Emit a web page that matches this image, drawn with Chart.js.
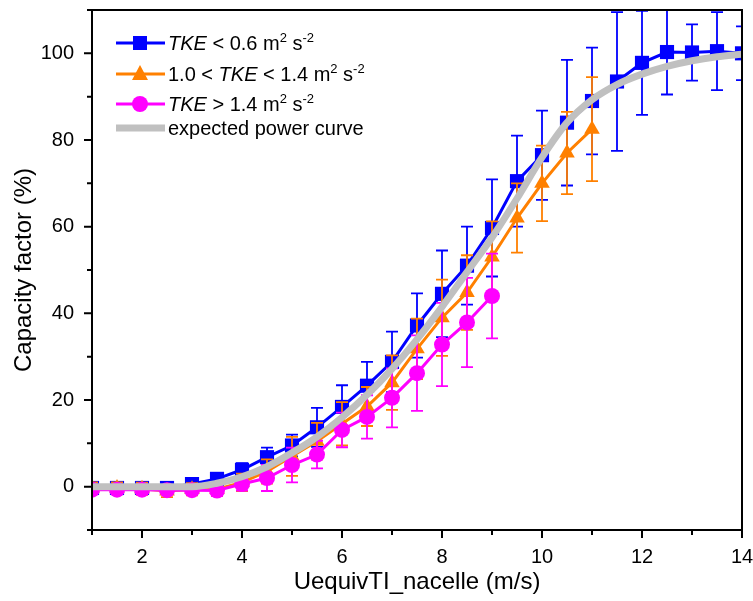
<!DOCTYPE html>
<html>
<head>
<meta charset="utf-8">
<script src="https://cdn.jsdelivr.net/npm/chart.js@4.4.1/dist/chart.umd.min.js"></script>
<style>
  html, body { margin: 0; padding: 0; background: #fff; }
  #chartContainer { width: 753px; height: 601px; }
</style>
</head>
<body>
<div id="chartContainer"><canvas id="cfChart" width="753" height="601"></canvas></div>
<script>
// wind speed bins (m/s)
const windSpeed = [1, 1.5, 2, 2.5, 3, 3.5, 4, 4.5, 5, 5.5, 6, 6.5, 7, 7.5, 8, 8.5, 9, 9.5, 10, 10.5, 11, 11.5, 12, 12.5, 13, 13.5, 14];

// TKE < 0.6
const cfLowTke  = [-0.3, -0.3, -0.3, -0.3, 0.6, 1.8, 3.9, 6.8, 9.5, 13.7, 18.4, 23.3, 28.8, 37.2, 44.5, 51, 59.7, 70.5, 76.5, 84, 89, 93.5, 97.8, 100.3, 100.2, 100.5, 100];
const errLowTke = [0.8, 0.8, 0.8, 0.8, 1, 1, 1.5, 2.2, 2.5, 4.5, 5, 5.5, 7, 7.4, 10, 9, 11.2, 10.5, 10.3, 14.5, 12.3, 16, 12, 9.8, 6.5, 9, 6.2];

// 1.0 < TKE < 1.4
const cfMidTke  = [-0.3, -0.3, -0.5, -1, -0.6, -0.6, 1, 3.5, 7, 10.5, 14.5, 18.5, 24, 31.8, 39, 44.8, 53, 62, 70, 77, 82.5];
const errMidTke = [1.3, 1.3, 1.4, 1.4, 1.4, 1.5, 2, 2.8, 4.5, 4.2, 5, 4.5, 6.3, 7, 8.8, 8.6, 8.2, 8, 8.7, 9.5, 12];

// TKE > 1.4
const cfHighTke  = [-0.7, -0.7, -0.7, -0.8, -0.8, -0.9, 0.6, 2, 5, 7.4, 13.1, 16.1, 20.5, 26.2, 32.8, 37.9, 44];
const errHighTke = [0.7, 0.7, 0.7, 0.7, 0.7, 1.2, 1.5, 3, 4, 3.2, 4, 5, 6.8, 8.7, 9.6, 10.3, 9.8];

// expected power curve
const cfExpected = [0, 0, 0, 0, 0, 0.8, 2.3, 4.6, 7.8, 11.5, 16, 21.2, 27.2, 34, 41.5, 49.5, 57.5, 66.5, 76, 84, 89.3, 92.8, 95.2, 97, 98.3, 99.2, 99.8];

const xTickLabels = [2, 4, 6, 8, 10, 12, 14];
const yTickLabels = [0, 20, 40, 60, 80, 100];

const legendEntries = [
	[{ t: 'TKE', it: true }, { t: ' < 0.6 m' }, { t: '2', sup: true }, { t: ' s' }, { t: '-2', sup: true }],
	[{ t: '1.0 < ' }, { t: 'TKE', it: true }, { t: ' < 1.4 m' }, { t: '2', sup: true }, { t: ' s' }, { t: '-2', sup: true }],
	[{ t: 'TKE', it: true }, { t: ' > 1.4 m' }, { t: '2', sup: true }, { t: ' s' }, { t: '-2', sup: true }],
	[{ t: 'expected power curve' }]
];

const FONT = '"Liberation Sans", Arial, sans-serif';
Chart.defaults.font.family = FONT;
Chart.defaults.color = '#000';

function toPoints(vals) {
	return vals.map((v, i) => ({ x: windSpeed[i], y: v }));
}

function noPad(s) {
	s.paddingTop = 0;
	s.paddingBottom = 0;
	s.paddingLeft = 0;
	s.paddingRight = 0;
}

const errorBarPlugin = {
	id: 'errorBars',
	afterDatasetDraw(chart, args) {
		const ds = chart.data.datasets[args.index];
		if (!ds.errors) return;
		const { ctx, chartArea, scales: { x, y } } = chart;
		ctx.save();
		ctx.beginPath();
		ctx.rect(chartArea.left, chartArea.top, chartArea.right - chartArea.left, chartArea.bottom - chartArea.top);
		ctx.clip();
		ctx.strokeStyle = ds.borderColor;
		ctx.lineWidth = 1.8;
		ds.data.forEach((p, i) => {
			const e = ds.errors[i];
			const px = x.getPixelForValue(p.x);
			const top = y.getPixelForValue(p.y + e);
			const bot = y.getPixelForValue(p.y - e);
			ctx.beginPath();
			ctx.moveTo(px, top); ctx.lineTo(px, bot);
			ctx.moveTo(px - 6, top); ctx.lineTo(px + 6, top);
			ctx.moveTo(px - 6, bot); ctx.lineTo(px + 6, bot);
			ctx.stroke();
		});
		ctx.restore();
	}
};

const framePlugin = {
	id: 'frame',
	afterDraw(chart) {
		const { ctx, chartArea: a, scales: { x, y } } = chart;
		ctx.save();
		ctx.strokeStyle = '#000';
		ctx.lineWidth = 2;
		ctx.strokeRect(a.left, a.top, a.right - a.left, a.bottom - a.top);
		ctx.beginPath();
		for (let v = -10; v <= 110; v += 10) {
			const py = y.getPixelForValue(v);
			const len = yTickLabels.includes(v) ? 8 : 5;
			ctx.moveTo(a.left - len, py); ctx.lineTo(a.left, py);
		}
		for (let v = 1; v <= 14; v += 1) {
			const px = x.getPixelForValue(v);
			const len = xTickLabels.includes(v) ? 8 : 5;
			ctx.moveTo(px, a.bottom); ctx.lineTo(px, a.bottom + len);
		}
		ctx.stroke();
		ctx.restore();
	}
};

function drawMarker(ctx, style, cx, cy, color) {
	ctx.fillStyle = color;
	ctx.beginPath();
	if (style === 'rect') {
		ctx.rect(cx - 7, cy - 7, 14, 14);
	} else if (style === 'triangle') {
		ctx.moveTo(cx, cy - 9);
		ctx.lineTo(cx + 8, cy + 6);
		ctx.lineTo(cx - 8, cy + 6);
		ctx.closePath();
	} else if (style === 'circle') {
		ctx.arc(cx, cy, 8, 0, Math.PI * 2);
	}
	ctx.fill();
}

const legendPlugin = {
	id: 'richLegend',
	afterDraw(chart) {
		const ctx = chart.ctx;
		const rows = [43, 74, 104, 128];
		ctx.save();
		rows.forEach((ly, r) => {
			const ds = chart.data.datasets[r];
			ctx.strokeStyle = ds.borderColor;
			ctx.lineWidth = ds.borderWidth;
			ctx.beginPath();
			ctx.moveTo(116, ly); ctx.lineTo(165, ly);
			ctx.stroke();
			if (ds.pointRadius > 0) drawMarker(ctx, ds.pointStyle, 140, ly, ds.borderColor);
			let tx = 168;
			ctx.fillStyle = '#000';
			ctx.textBaseline = 'alphabetic';
			legendEntries[r].forEach(s => {
				if (s.sup) {
					ctx.font = '13px ' + FONT;
					ctx.fillText(s.t, tx, ly - 1);
				} else {
					ctx.font = (s.it ? 'italic ' : '') + '20px ' + FONT;
					ctx.fillText(s.t, tx, ly + 7);
				}
				tx += ctx.measureText(s.t).width;
			});
		});
		ctx.restore();
	}
};

const ctx = document.getElementById('cfChart').getContext('2d');
new Chart(ctx, {
	type: 'line',
	data: {
		datasets: [{
			label: 'TKE < 0.6',
			data: toPoints(cfLowTke),
			errors: errLowTke,
			borderColor: '#0000ff',
			backgroundColor: '#0000ff',
			borderWidth: 3,
			pointStyle: 'rect',
			pointRadius: 10,
			pointBorderWidth: 0,
			tension: 0,
			order: 4
		}, {
			label: '1.0 < TKE < 1.4',
			data: toPoints(cfMidTke),
			errors: errMidTke,
			borderColor: '#ff8000',
			backgroundColor: '#ff8000',
			borderWidth: 3,
			pointStyle: 'triangle',
			pointRadius: 9,
			pointBorderWidth: 0,
			tension: 0,
			order: 3
		}, {
			label: 'TKE > 1.4',
			data: toPoints(cfHighTke),
			errors: errHighTke,
			borderColor: '#ff00ff',
			backgroundColor: '#ff00ff',
			borderWidth: 3,
			pointStyle: 'circle',
			pointRadius: 8,
			pointBorderWidth: 0,
			tension: 0,
			order: 2
		}, {
			label: 'expected power curve',
			data: toPoints(cfExpected),
			borderColor: '#c0c0c0',
			backgroundColor: '#c0c0c0',
			borderWidth: 7,
			pointRadius: 0,
			cubicInterpolationMode: 'monotone',
			order: 1
		}]
	},
	options: {
		responsive: false,
		animation: false,
		events: [],
		layout: { padding: { top: 9, right: 11, left: 0, bottom: 0 } },
		plugins: {
			legend: { display: false },
			tooltip: { enabled: false }
		},
		scales: {
			x: {
				type: 'linear',
				min: 1,
				max: 14,
				grid: { display: false, drawTicks: false },
				border: { display: false },
				ticks: {
					stepSize: 1,
					autoSkip: false,
					maxRotation: 0,
					padding: 15,
					font: { size: 20 },
					callback: v => xTickLabels.includes(v) ? String(v) : ''
				},
				title: { display: true, text: 'UequivTI_nacelle (m/s)', font: { size: 24 }, padding: { top: 0, bottom: 4 } },
				afterFit: s => { s.height = 71; noPad(s); }
			},
			y: {
				min: -10,
				max: 110,
				grid: { display: false, drawTicks: false },
				border: { display: false },
				ticks: {
					stepSize: 10,
					autoSkip: false,
					padding: 18,
					font: { size: 20 },
					callback: v => yTickLabels.includes(v) ? String(v) : ''
				},
				title: { display: true, text: 'Capacity factor (%)', font: { size: 24 }, padding: { top: 10, bottom: 0 } },
				afterFit: s => { s.width = 92; noPad(s); }
			}
		}
	},
	plugins: [errorBarPlugin, framePlugin, legendPlugin]
});
</script>
</body>
</html>
